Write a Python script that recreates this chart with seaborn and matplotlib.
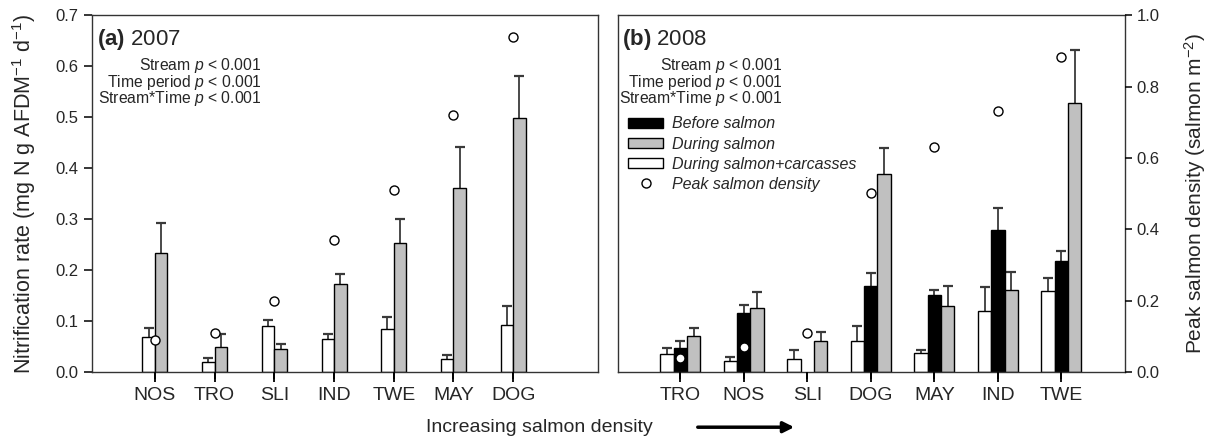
import numpy as np
import pandas as pd
import matplotlib
matplotlib.use("Agg")
import matplotlib.pyplot as plt
from matplotlib import font_manager
from matplotlib.patches import Patch, FancyArrowPatch
from matplotlib.lines import Line2D
import seaborn as sns

# ---------------- data ----------------
streams_2007 = ["NOS", "TRO", "SLI", "IND", "TWE", "MAY", "DOG"]
carc_2007 = [0.069, 0.020, 0.090, 0.064, 0.085, 0.025, 0.092]
carc_2007_se = [0.018, 0.008, 0.012, 0.011, 0.023, 0.009, 0.038]
during_2007 = [0.233, 0.049, 0.045, 0.172, 0.254, 0.360, 0.499]
during_2007_se = [0.059, 0.026, 0.009, 0.020, 0.047, 0.082, 0.081]
peak_2007 = [0.089, 0.110, 0.199, 0.370, 0.509, 0.720, 0.938]

streams_2008 = ["TRO", "NOS", "SLI", "DOG", "MAY", "IND", "TWE"]
carc_2008 = [0.036, 0.022, 0.026, 0.060, 0.038, 0.120, 0.158]
carc_2008_se = [0.012, 0.008, 0.017, 0.030, 0.005, 0.046, 0.027]
before_2008 = [0.048, 0.116, np.nan, 0.168, 0.151, 0.279, 0.217]
before_2008_se = [0.013, 0.016, np.nan, 0.026, 0.010, 0.042, 0.020]
during_2008 = [0.071, 0.125, 0.061, 0.388, 0.130, 0.161, 0.527]
during_2008_se = [0.016, 0.031, 0.018, 0.052, 0.038, 0.035, 0.104]
peak_2008 = [0.040, 0.070, 0.109, 0.502, 0.631, 0.732, 0.883]

period_labels = ["Before salmon", "During salmon", "During salmon+carcasses"]
peak_label = "Peak salmon density"
stats_lines = ["Stream", "Time period", "Stream*Time"]
y_ticks_left = [0.0, 0.1, 0.2, 0.3, 0.4, 0.5, 0.6, 0.7]
y_ticks_right = [0.0, 0.2, 0.4, 0.6, 0.8, 1.0]

# ---------------- style ----------------
sns.set_style("ticks")


def has_font(name):
    try:
        font_manager.findfont(name, fallback_to_default=False)
        return True
    except Exception:
        return False


NARROW = "Liberation Sans Narrow" if has_font("Liberation Sans Narrow") else "Liberation Sans"
plt.rcParams["font.family"] = ["Liberation Sans", "DejaVu Sans"]
plt.rcParams["mathtext.fontset"] = "custom"
plt.rcParams["mathtext.rm"] = "Liberation Sans"
plt.rcParams["mathtext.bf"] = "Liberation Sans:bold"
plt.rcParams["mathtext.it"] = NARROW + ":italic"

C_WHITE = "white"
C_BLACK = "black"
C_GRAY = "#c0c0c0"
SPINE = "#333333"
ERR = "#3a3a3a"

fig = plt.figure(figsize=(12.07, 4.45), dpi=100)
axA = fig.add_axes([0.0762, 0.164, 0.4192, 0.802])
axB = fig.add_axes([0.512, 0.164, 0.420, 0.802])

# ---------------- data frames ----------------
dfA = pd.concat([
    pd.DataFrame({"stream": streams_2007, "rate": carc_2007, "se": carc_2007_se,
                  "period": period_labels[2]}),
    pd.DataFrame({"stream": streams_2007, "rate": during_2007, "se": during_2007_se,
                  "period": period_labels[1]}),
])
dfB = pd.concat([
    pd.DataFrame({"stream": streams_2008, "rate": carc_2008, "se": carc_2008_se,
                  "period": period_labels[2]}),
    pd.DataFrame({"stream": streams_2008, "rate": before_2008, "se": before_2008_se,
                  "period": period_labels[0]}),
    pd.DataFrame({"stream": streams_2008, "rate": during_2008, "se": during_2008_se,
                  "period": period_labels[1]}),
])
pal = {period_labels[0]: C_BLACK, period_labels[1]: C_GRAY, period_labels[2]: C_WHITE}


def draw_panel(ax, df, order, hue_order, width, peaks, xlim):
    sns.barplot(data=df.dropna(subset=["rate"]), x="stream", y="rate", hue="period",
                order=order, hue_order=hue_order, palette=pal, width=width, gap=0,
                edgecolor="black", linewidth=1.0, errorbar=None, saturation=1,
                legend=False, ax=ax, zorder=2)
    n = len(hue_order)
    bw = width / n
    for j, lvl in enumerate(hue_order):
        sub = df[df["period"] == lvl].set_index("stream").reindex(order)
        off = -width / 2 + bw * (j + 0.5)
        xs = np.arange(len(order)) + off
        y = sub["rate"].to_numpy(dtype=float)
        e = sub["se"].to_numpy(dtype=float)
        ok = ~np.isnan(y)
        ax.vlines(xs[ok], y[ok], y[ok] + e[ok], color=ERR, lw=1.3, zorder=1)
        ax.plot(xs[ok], y[ok] + e[ok], ls="none", marker="_", ms=7, mew=1.6,
                color=ERR, zorder=1)
    ax.set_xlim(*xlim)
    ax.set_ylim(0, 0.7)
    ax.set_xlabel("")
    ax.set_ylabel("")
    for s in ax.spines.values():
        s.set_visible(True)
        s.set_color(SPINE)
        s.set_linewidth(1.0)
    ax2 = ax.twinx()
    ax2.set_ylim(0, 1.0)
    ax2.plot(np.arange(len(order)), peaks, ls="none", marker="o", ms=6.5,
             mfc="white", mec="black", mew=1.0, zorder=5)
    for s in ax2.spines.values():
        s.set_visible(False)
    ax.set_xticks(np.arange(len(order)))
    ax.set_xticklabels(order)
    ax.tick_params(axis="x", which="major", bottom=True, top=False, direction="out",
                   length=7, width=1.3, color="black", labelsize=14, pad=4)
    # explicit tick marks on the x axis (category positions), in axis coordinates
    ax.vlines(np.arange(len(order)), -0.02, 0.0, transform=ax.get_xaxis_transform(),
              color="black", lw=1.3, clip_on=False, zorder=6)
    return ax2


axA2 = draw_panel(axA, dfA, streams_2007, [period_labels[2], period_labels[1]], 0.42,
                  peak_2007, (-1.055, 7.42))
axB2 = draw_panel(axB, dfB, streams_2008,
                  [period_labels[2], period_labels[0], period_labels[1]], 0.63,
                  peak_2008, (-0.98, 7.0))

# left axis (panel a)
axA.set_yticks(y_ticks_left)
axA.set_yticklabels([f"{v:.1f}" for v in y_ticks_left])
axA.tick_params(axis="y", left=True, direction="out", length=6, width=1.1, color="black",
                labelsize=12)
axA.set_ylabel(r"Nitrification rate (mg N g AFDM$^{-1}$ d$^{-1}$)", fontsize=15.5)
axA.yaxis.set_label_coords(-0.107, 0.5)
axA2.set_yticks([])

# panel b axes
axB.tick_params(axis="y", left=False, labelleft=False)
axB2.set_yticks(y_ticks_right)
axB2.set_yticklabels([f"{v:.1f}" for v in y_ticks_right])
axB2.tick_params(axis="y", right=True, direction="out", length=5, width=1.1, color="black",
                 labelsize=12)
axB2.set_ylabel(r"Peak salmon density (salmon m$^{-2}$)", fontsize=15)
axB2.yaxis.set_label_coords(1.112, 0.5)

# panel titles
axA.text(0.01, 0.933, r"$\bf{(a)}$ 2007", transform=axA.transAxes, fontsize=16,
         ha="left", va="center")
axB.text(0.008, 0.933, r"$\bf{(b)}$ 2008", transform=axB.transAxes, fontsize=16,
         ha="left", va="center")

# statistics text
for ax, xr in ((axA, 0.336), (axB, 0.325)):
    for lab, yy in zip(stats_lines, (0.860, 0.812, 0.765)):
        ax.text(xr, yy, lab + r" $\it{p}$ < 0.001", transform=ax.transAxes,
                ha="right", va="center", fontsize=11.3, family=[NARROW, "DejaVu Sans"])

# legend
handles = [
    Patch(facecolor=C_BLACK, edgecolor="black", lw=1),
    Patch(facecolor=C_GRAY, edgecolor="black", lw=1),
    Patch(facecolor=C_WHITE, edgecolor="black", lw=1),
    Line2D([], [], ls="none", marker="o", ms=6.5, mfc="white", mec="black", mew=1.0),
]
labels = [period_labels[0], period_labels[1], period_labels[2], peak_label]
axB.legend(handles, labels, loc="upper left", bbox_to_anchor=(0.02, 0.716),
           frameon=False, borderpad=0, borderaxespad=0, handlelength=2.2,
           handleheight=0.6, handletextpad=0.55, labelspacing=0.32,
           prop={"family": NARROW, "style": "italic", "size": 11.5})

# bottom label and arrow
fig.text(0.447, 0.04, "Increasing salmon density", ha="center", va="center", fontsize=14)
fig.add_artist(FancyArrowPatch(
    (695 / 1207, 0.04), (797 / 1207, 0.04), transform=fig.transFigure,
    arrowstyle="-|>", mutation_scale=16, lw=2.5, color="black"))

fig.savefig("out.png", dpi=100)
